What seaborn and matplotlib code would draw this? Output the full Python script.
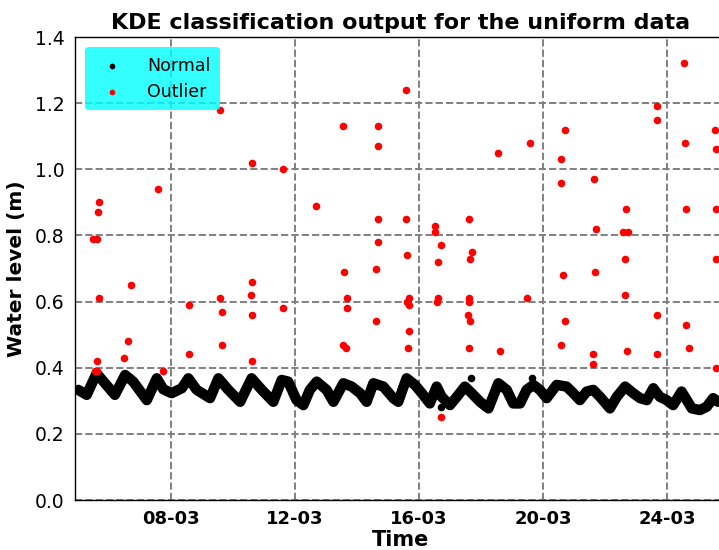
import numpy as np
import pandas as pd
import matplotlib
matplotlib.use("Agg")
import matplotlib.pyplot as plt
import matplotlib.dates as mdates
import seaborn as sns

# ---- data (day of March, water level in m) ----
normal_day = [5.01, 5.28, 5.60, 5.87, 6.19, 6.52, 6.78, 7.22, 7.54, 7.75, 8.02, 8.35,
              8.56, 8.83, 9.26, 9.53, 9.85, 10.23, 10.60, 10.93, 11.30, 11.57, 11.78,
              12.05, 12.27, 12.48, 12.70, 13.02, 13.24, 13.56, 13.83, 14.10, 14.31,
              14.53, 14.85, 15.17, 15.33, 15.60, 15.87, 16.09, 16.35, 16.57, 16.73,
              17.00, 17.22, 17.48, 17.70, 17.97, 18.24, 18.56, 18.83, 19.04, 19.26,
              19.47, 19.69, 19.90, 20.12, 20.44, 20.76, 20.98, 21.19, 21.41, 21.62,
              21.84, 22.16, 22.38, 22.65, 22.91, 23.13, 23.35, 23.56, 23.77, 23.99,
              24.20, 24.47, 24.64, 24.80, 25.06, 25.28, 25.49, 25.65]
normal_level = [0.333, 0.318, 0.383, 0.353, 0.318, 0.378, 0.358, 0.302, 0.368, 0.335,
                0.323, 0.338, 0.368, 0.333, 0.308, 0.368, 0.333, 0.297, 0.368, 0.333,
                0.297, 0.363, 0.358, 0.302, 0.287, 0.333, 0.358, 0.333, 0.297, 0.353,
                0.343, 0.323, 0.297, 0.353, 0.343, 0.308, 0.297, 0.368, 0.348, 0.323,
                0.292, 0.343, 0.312, 0.287, 0.312, 0.343, 0.323, 0.297, 0.277, 0.353,
                0.333, 0.292, 0.292, 0.333, 0.348, 0.333, 0.308, 0.348, 0.343, 0.323,
                0.302, 0.328, 0.333, 0.312, 0.277, 0.312, 0.343, 0.323, 0.308, 0.302,
                0.338, 0.312, 0.302, 0.287, 0.328, 0.302, 0.277, 0.272, 0.282, 0.308,
                0.297]
normal_extra_day = [16.70, 17.68, 19.65]
normal_extra_level = [0.28, 0.37, 0.37]

outlier_day = [5.49, 5.62, 5.64, 5.68, 5.68, 5.60, 5.55, 5.62,
               6.48, 6.62, 6.70, 7.59, 7.73, 8.59, 8.59,
               9.58, 9.57, 9.65, 9.63,
               10.61, 10.61, 10.58, 10.62, 10.60, 11.61, 11.61, 12.69,
               13.56, 13.59, 13.67, 13.67, 13.56, 13.65,
               14.68, 14.69, 14.68, 14.67, 14.61, 14.60,
               15.58, 15.58, 15.60, 15.68, 15.60, 15.69, 15.67, 15.66,
               16.51, 16.53, 16.70, 16.61, 16.61, 16.59, 16.70,
               17.62, 17.70, 17.65, 17.60, 17.60, 17.58, 17.66, 17.62,
               18.56, 18.61, 19.59, 19.48,
               20.71, 20.58, 20.58, 20.66, 20.71, 20.58,
               21.66, 21.70, 21.69, 21.60, 21.60,
               22.68, 22.57, 22.73, 22.64, 22.63, 22.70,
               23.68, 23.68, 23.68, 23.67,
               24.55, 24.57, 24.61, 24.62, 24.71,
               25.55, 25.57, 25.57, 25.59, 25.58]
outlier_level = [0.79, 0.79, 0.87, 0.90, 0.61, 0.42, 0.39, 0.39,
                 0.43, 0.48, 0.65, 0.94, 0.39, 0.59, 0.44,
                 1.18, 0.61, 0.57, 0.47,
                 1.02, 0.66, 0.62, 0.56, 0.42, 1.00, 0.58, 0.89,
                 1.13, 0.69, 0.61, 0.58, 0.47, 0.46,
                 1.13, 1.07, 0.85, 0.78, 0.70, 0.54,
                 1.24, 0.85, 0.74, 0.61, 0.60, 0.59, 0.51, 0.46,
                 0.83, 0.81, 0.77, 0.72, 0.61, 0.60, 0.25,
                 0.85, 0.75, 0.73, 0.61, 0.60, 0.56, 0.54, 0.46,
                 1.05, 0.45, 1.08, 0.61,
                 1.12, 1.03, 0.96, 0.68, 0.54, 0.47,
                 0.97, 0.82, 0.69, 0.44, 0.41,
                 0.88, 0.81, 0.81, 0.73, 0.62, 0.45,
                 1.19, 1.15, 0.56, 0.44,
                 1.32, 1.08, 0.88, 0.53, 0.46,
                 1.12, 1.06, 0.88, 0.73, 0.40]

tick_days = [8, 12, 16, 20, 24]
y_ticks = [0.0, 0.2, 0.4, 0.6, 0.8, 1.0, 1.2, 1.4]


def to_time(days):
    return pd.Timestamp("2019-03-01") + pd.to_timedelta(np.asarray(days, float) - 1, unit="D")


normal_df = pd.DataFrame({"Time": to_time(normal_day), "Level": normal_level})
extra_df = pd.DataFrame({"Time": to_time(normal_extra_day), "Level": normal_extra_level})
outlier_df = pd.DataFrame({"Time": to_time(outlier_day), "Level": outlier_level})

sns.set_style("white")
plt.rcParams["font.family"] = ["DejaVu Sans"]
plt.rcParams.update({"text.color": "black", "axes.labelcolor": "black",
                     "xtick.color": "black", "ytick.color": "black"})

fig = plt.figure(figsize=(7.19, 5.5), dpi=100)
ax = fig.add_axes([0.1043, 0.0909, 0.9057, 0.8418])

# thick band for the dense normal series
sns.lineplot(data=normal_df, x="Time", y="Level", color="black", lw=7.5,
             ax=ax, zorder=3, legend=False)
sns.scatterplot(data=pd.concat([normal_df, extra_df]), x="Time", y="Level",
                color="black", s=30, linewidth=0, ax=ax, zorder=4, label="Normal")
sns.scatterplot(data=outlier_df, x="Time", y="Level", color="red", s=30,
                linewidth=0, ax=ax, zorder=5, label="Outlier")

ax.set_xlim(to_time([4.903])[0], to_time([25.91])[0])
ax.set_ylim(0, 1.4)
ax.set_yticks(y_ticks)
ax.set_yticklabels([f"{v:.1f}" for v in y_ticks], fontsize=13.5)
ax.set_xticks(to_time(tick_days))
ax.xaxis.set_major_formatter(mdates.DateFormatter("%d-%m"))
for lab in ax.get_xticklabels():
    lab.set_fontsize(13)
    lab.set_fontweight("bold")

ax.grid(True, linestyle="--", color="#808080", lw=1.4)
ax.set_axisbelow(True)
ax.tick_params(axis="both", direction="out", length=4, width=1, color="black")
for s in ["left", "bottom", "top", "right"]:
    ax.spines[s].set_color("black")
    ax.spines[s].set_linewidth(1.0)

ax.set_title("KDE classification output for the uniform data", fontsize=16,
             fontweight="bold", pad=6)
ax.set_xlabel("Time", fontsize=15, fontweight="bold", labelpad=1)
ax.set_ylabel("Water level (m)", fontsize=14.5, fontweight="bold", labelpad=6)

leg = ax.legend(loc="upper left", fontsize=12.5, handletextpad=1.0,
                facecolor="#00ffff", framealpha=0.8, edgecolor="none",
                borderpad=0.55, labelspacing=0.45, markerscale=0.75,
                borderaxespad=0.6)

fig.savefig("out.png", dpi=100)
